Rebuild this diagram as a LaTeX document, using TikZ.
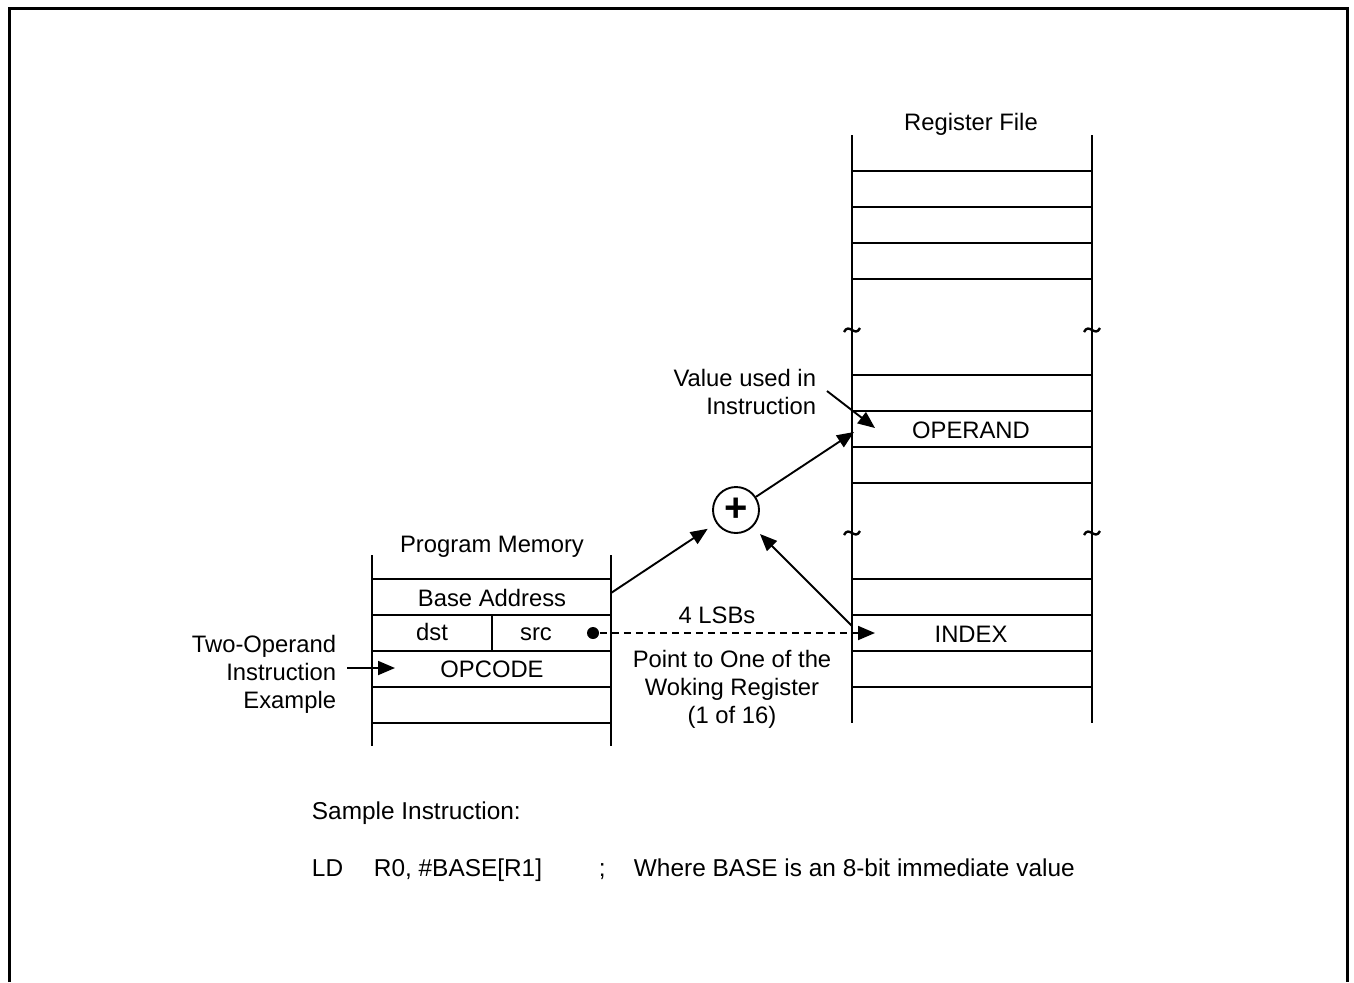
\documentclass[tikz,border=0pt]{standalone}
\usepackage{fontspec}
\setmainfont{Liberation Sans}
\usetikzlibrary{arrows.meta}

\tikzset{
  lbl/.style={inner sep=0pt,anchor=base},
  sampletxt/.style={lbl,anchor=base west,font=\fontsize{12.2}{14}\selectfont},
  ptr/.style={-{Triangle[length=8.5pt,width=7pt]}},
  brk/.style={line width=1.2pt},
}

\begin{document}
\begin{tikzpicture}[x=0.5pt,y=-0.5pt,line width=0.95pt,font=\fontsize{11.9}{14}\selectfont]
            \useasboundingbox (0,0) rectangle (1354,982);
            \draw[line width=1.5pt] (9.5,982) -- (9.5,8) -- (1347.5,8) -- (1347.5,982);
            \draw (852,135) -- (852,723);
            \draw (1092,135) -- (1092,723);
            \foreach \y in {171,207,243,279,375,411,447,483,579,615,651,687}
              \draw (852,\y) -- (1092,\y);
            \foreach \x in {852,1092}
              \foreach \y in {330,533}
                \draw[brk] (\x-8,\y+2) .. controls (\x-3,\y-8) and (\x+3,\y+8) .. (\x+8,\y-2);
            \draw (372,555) -- (372,746);
            \draw (611,555) -- (611,746);
            \foreach \y in {579,615,651,687,723}
              \draw (372,\y) -- (611,\y);
            \draw (492,615) -- (492,651);
            \node[lbl] (regtitle) at (971,130) {Register File};
            \node[lbl] (operand) at (971,438) {OPERAND};
            \node[lbl] (index) at (971,642) {INDEX};
            \node[lbl] (pmtitle) at (492,552) {Program Memory};
            \node[lbl] (base) at (492,606) {Base Address};
            \node[lbl] (dst) at (432,640) {dst};
            \node[lbl] (src) at (536,640) {src};
            \node[lbl] (opcode) at (492,677) {OPCODE};
            \node[circle,draw,minimum size=23pt,inner sep=0pt,font=\fontsize{20}{20}\selectfont\bfseries] (sum) at (736,510) {+};
            \node[circle,fill,minimum size=6pt,inner sep=0pt] (dot) at (593,633) {};
            \node[lbl,anchor=base east,align=right] (twoop) at (337,708) {Two-Operand\\Instruction\\Example};
            \node[lbl,anchor=base east,align=right] (valtxt) at (817,414) {Value used in\\Instruction};
            \node[lbl] (lsb) at (717,623) {4 LSBs};
            \node[lbl,align=center] (point) at (732,723) {Point to One of the\\Woking Register\\(1 of 16)};
            \node[sampletxt] (sample) at (311,819) {Sample Instruction:};
            \node[sampletxt] (ld) at (311,876) {LD};
            \node[sampletxt] (ldops) at (373,876) {R0, \#BASE[R1]};
            \node[sampletxt] (semi) at (598,876) {;};
            \node[sampletxt] (ldnote) at (633,876) {Where BASE is an 8-bit immediate value};
            \coordinate (base-out) at (611,593);
            \coordinate (index-out) at (852,626);
            \coordinate (index-in) at (875,633);
            \coordinate (operand-in) at (854,432);
            \coordinate (operand-tip) at (875,428);
            \coordinate (valtxt-out) at (827,391);
            \coordinate (twoop-out) at (347,668);
            \coordinate (opcode-in) at (395,668);
            \draw[ptr,shorten >=5pt] (base-out) -- (sum);
            \draw[ptr,shorten >=5pt] (index-out) -- (sum);
            \draw[ptr] (sum) -- (operand-in);
            \draw[ptr,dash pattern=on 3.5pt off 2.5pt] (dot) -- (index-in);
            \draw[ptr] (valtxt-out) -- (operand-tip);
            \draw[ptr] (twoop-out) -- (opcode-in);
\end{tikzpicture}
\end{document}
